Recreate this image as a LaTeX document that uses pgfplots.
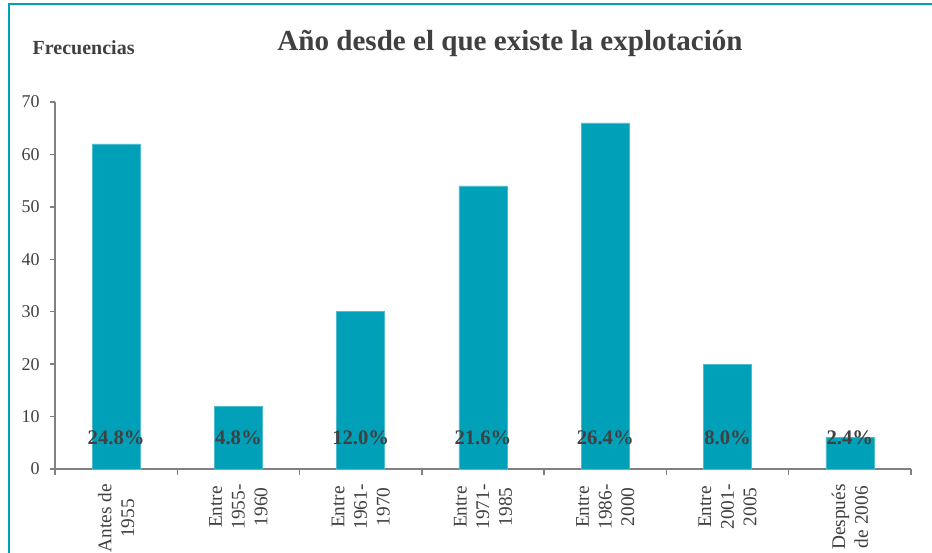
\documentclass[border=0pt]{standalone}
\usepackage{pgfplots}
\pgfplotsset{compat=1.18}
\usepackage{fontspec}
\setmainfont{Liberation Serif}
\definecolor{barteal}{RGB}{0,160,185}
\definecolor{txtgray}{RGB}{64,64,64}
\definecolor{axgray}{RGB}{128,128,128}
\begin{document}
\begin{tikzpicture}[x=0.75pt,y=0.75pt]
\useasboundingbox (0,0) rectangle (932,553);
\draw[barteal, line width=2.2pt] (9,0) -- (9,549) -- (932,549);
\node[font=\bfseries\fontsize{21.8}{24}\selectfont, text=txtgray, anchor=base] at (510,502) {Año desde el que existe la explotación};
\node[font=\bfseries\fontsize{15}{17}\selectfont, text=txtgray, anchor=base west] at (28,498) {Frecuencias};
\begin{axis}[
  at={(41.25pt,63pt)}, anchor=south west,
  scale only axis, width=642pt, height=275.25pt,
  xmin=-0.5, xmax=6.5, ymin=0, ymax=70,
  axis lines=left, axis line style={axgray, line width=1.1pt, -},
  xtick={0,...,6},
  xticklabels={{Antes de\\1955},{Entre\\1955-\\1960},{Entre\\1961-\\1970},{Entre\\1971-\\1985},{Entre\\1986-\\2000},{Entre\\2001-\\2005},{Después\\de 2006}},
  major x tick style={draw=none},
  minor xtick={-0.5,0.5,...,6.5},
  minor tick length=4.5pt,
  minor x tick style={axgray, line width=1.1pt},
  ytick={0,10,...,70},
  major tick length=4pt,
  major y tick style={axgray, line width=1.1pt},
  tick align=outside,
  xticklabel shift=4pt,
  yticklabel shift=4pt,
  x tick label style={rotate=90, anchor=east, align=center, font=\fontsize{14.5}{17}\selectfont, text=txtgray},
  y tick label style={font=\fontsize{13.5}{15}\selectfont, text=txtgray},
  /pgf/number format/assume math mode=true,
  clip=false,
]
\addplot[ybar, bar width=36pt, fill=barteal, draw=barteal!70!white, line width=0.5pt] coordinates {(0,62) (1,12) (2,30) (3,54) (4,66) (5,20) (6,6)};
\addplot[only marks, mark=none, point meta=explicit symbolic, nodes near coords,
  every node near coord/.append style={anchor=center, font=\bfseries\fontsize{15.5}{18}\selectfont, text=txtgray}]
  coordinates {(0,6)[24.8\%] (1,6)[4.8\%] (2,6)[12.0\%] (3,6)[21.6\%] (4,6)[26.4\%] (5,6)[8.0\%] (6,6)[2.4\%]};
\end{axis}
\end{tikzpicture}
\end{document}
